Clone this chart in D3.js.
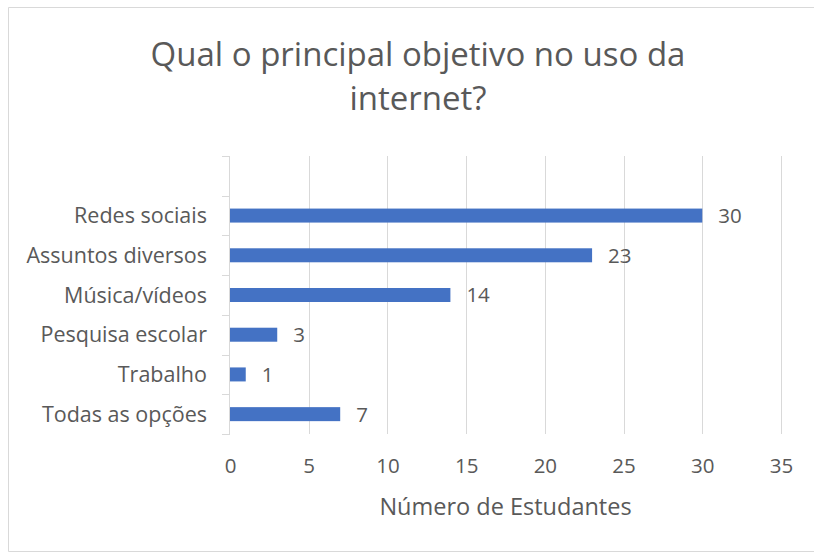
<!DOCTYPE html>
<html>
<head>
<meta charset="utf-8">
<script src="https://cdn.jsdelivr.net/npm/d3@7"></script>
<style>
  html, body { margin: 0; padding: 0; background: #fff; overflow: hidden; }
  svg { display: block; }
  text { font-family: "Open Sans", "Noto Sans", sans-serif; fill: #595959; }
</style>
</head>
<body>
<svg id="chart" width="814" height="552"></svg>
<script>
// Survey answers: main purpose of internet use
const categories = ["Redes sociais", "Assuntos diversos", "Música/vídeos", "Pesquisa escolar", "Trabalho", "Todas as opções"];
const students = [30, 23, 14, 3, 1, 7];
const xTicks = [0, 5, 10, 15, 20, 25, 30, 35];
const titleLines = ["Qual o principal objetivo no uso da", "internet?"];
const xTitle = "Número de Estudantes";

const svg = d3.select("#chart");

// Chart frame (its right edge lies outside the visible area)
svg.append("path")
  .attr("d", "M840,7.5H8.5V551.5H840")
  .attr("fill", "none").attr("stroke", "#d9d9d9").attr("stroke-width", 1);

const plot = { left: 230, right: 781, top: 156, bottom: 434 };

const x = d3.scaleLinear().domain([0, 35]).range([plot.left, plot.right]);

// One blank slot above the first category, as in the source worksheet
const slots = ["__blank__", ...categories];
const y = d3.scaleBand().domain(slots).range([plot.top, plot.bottom]).padding(0);
const barH = 14;

// Vertical gridlines
svg.append("g").selectAll("line")
  .data(xTicks.filter(d => d > 0))
  .join("line")
  .attr("x1", d => Math.round(x(d)) + 0.5).attr("x2", d => Math.round(x(d)) + 0.5)
  .attr("y1", plot.top).attr("y2", plot.bottom)
  .attr("stroke", "#d9d9d9").attr("stroke-width", 1);

// Bars
const rows = categories.map((c, i) => ({ c, v: students[i] }));
svg.append("g").selectAll("rect")
  .data(rows)
  .join("rect")
  .attr("x", x(0))
  .attr("y", d => y(d.c) + y.bandwidth() / 2 - barH / 2)
  .attr("width", d => x(d.v) - x(0))
  .attr("height", barH)
  .attr("fill", "#4472c4");

// Category axis with ticks at band boundaries
const yAxisG = svg.append("g");
yAxisG.append("line")
  .attr("x1", plot.left - 0.5).attr("x2", plot.left - 0.5)
  .attr("y1", plot.top).attr("y2", plot.bottom)
  .attr("stroke", "#d9d9d9");
const bounds = slots.map(s => y(s)).concat([plot.bottom]);
yAxisG.selectAll("line.tick")
  .data(bounds)
  .join("line")
  .attr("class", "tick")
  .attr("x1", plot.left - 8).attr("x2", plot.left)
  .attr("y1", d => Math.round(d) + 0.5).attr("y2", d => Math.round(d) + 0.5)
  .attr("stroke", "#d9d9d9");

// Category labels
svg.append("g").selectAll("text")
  .data(categories)
  .join("text")
  .attr("x", 207)
  .attr("y", d => y(d) + y.bandwidth() / 2)
  .attr("dy", "0.35em")
  .attr("text-anchor", "end")
  .attr("font-size", 21.5)
  .text(d => d);

// Value labels
svg.append("g").selectAll("text")
  .data(rows)
  .join("text")
  .attr("x", d => x(d.v) + 16)
  .attr("y", d => y(d.c) + y.bandwidth() / 2)
  .attr("dy", "0.36em")
  .attr("font-size", 20.5)
  .text(d => d.v);

// Value axis tick labels
const xAxis = d3.axisBottom(x).tickValues(xTicks).tickSize(0).tickPadding(0);
const xg = svg.append("g").attr("transform", `translate(0,${plot.bottom})`).call(xAxis);
xg.select(".domain").remove();
xg.selectAll("text")
  .attr("y", 32)
  .attr("dy", "0.36em")
  .attr("font-size", 20.5)
  .style("font-family", "'Open Sans', 'Noto Sans', sans-serif")
  .attr("fill", "#595959");

// Axis title
svg.append("text")
  .attr("x", (plot.left + plot.right) / 2)
  .attr("y", 515)
  .attr("text-anchor", "middle")
  .attr("font-size", 23.5)
  .text(xTitle);

// Chart title
svg.append("g").selectAll("text")
  .data(titleLines)
  .join("text")
  .attr("x", 418)
  .attr("y", (d, i) => 66 + i * 44)
  .attr("text-anchor", "middle")
  .attr("font-size", 33)
  .text(d => d);
</script>
</body>
</html>
